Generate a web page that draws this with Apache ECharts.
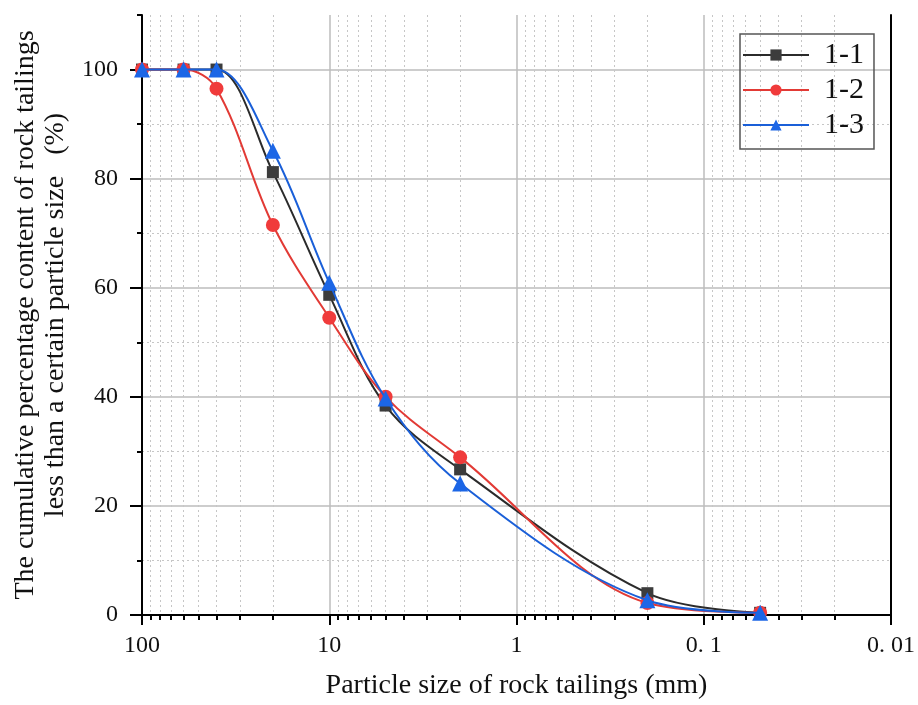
<!DOCTYPE html>
<html>
<head>
<meta charset="utf-8">
<script src="https://cdn.jsdelivr.net/npm/echarts@6/dist/echarts.min.js"></script>
<style>
  html, body { margin: 0; padding: 0; background: #fff; }
  #chart { width: 918px; height: 705px; }
</style>
</head>
<body>
<div id="chart"></div>
<script>
// particle size (mm) and cumulative passing (%)
const sizes = [100, 60, 40, 20, 10, 5, 2, 0.2, 0.05];
const s11 = [100, 100, 100, 81.2, 58.7, 38.4, 26.7, 4.0, 0.4];
const s12 = [100, 100, 96.5, 71.5, 54.5, 40.0, 28.9, 2.2, 0.4];
const s13 = [100, 100, 100, 85.1, 60.9, 39.7, 24.1, 2.7, 0.4];

const xLabelMap = { '100': '100', '10': '10', '1': '1', '0.1': '0. 1', '0.01': '0. 01' };
const yMajor = [0, 20, 40, 60, 80, 100];
const yMinor = [10, 30, 50, 70, 90, 110];

const serif = 'Liberation Serif';

function pairs(ys) {
  return sizes.map((x, i) => [x, ys[i]]);
}

const chart = echarts.init(document.getElementById('chart'));

const option = {
  animation: false,
  backgroundColor: '#fff',
  grid: { left: 142, right: 27, top: 15, bottom: 88 },
  legend: {
    orient: 'vertical',
    left: 740,
    top: 34,
    padding: [6, 10, 9, 2],
    itemWidth: 66,
    itemHeight: 14,
    itemGap: 5,
    borderColor: '#555',
    borderWidth: 1.5,
    textStyle: { fontFamily: serif, fontSize: 30, color: '#111', padding: [0, 0, 0, 10] },
    data: ['1-1', '1-2', '1-3']
  },
  xAxis: [
    {
      type: 'log',
      logBase: 10,
      min: 0.01,
      max: 100,
      inverse: true,
      position: 'bottom',
      name: 'Particle size of rock tailings (mm)',
      nameLocation: 'middle',
      nameGap: 57,
      nameTextStyle: { fontFamily: serif, fontSize: 28, color: '#111' },
      axisLine: { lineStyle: { color: '#000', width: 2 } },
      axisTick: { inside: false, length: 10, lineStyle: { color: '#000', width: 2 } },
      minorTick: { show: true, splitNumber: 9, length: 5, lineStyle: { color: '#000', width: 2 } },
      axisLabel: {
        margin: 19,
        fontFamily: serif,
        fontSize: 24,
        color: '#111',
        formatter: v => xLabelMap[String(+v.toPrecision(6))] || ''
      },
      splitLine: { show: true, lineStyle: { color: '#bdbdbd', width: 1.5 } },
      minorSplitLine: { show: true, lineStyle: { color: '#c6c6c6', width: 1, type: [2, 3] } }
    }
  ],
  yAxis: [
    {
      type: 'value',
      min: 0,
      max: 110,
      interval: 20,
      name: 'The cumulative percentage content of rock tailings\nless than a certain particle size   (%)',
      nameLocation: 'middle',
      nameGap: 70,
      nameTextStyle: { fontFamily: serif, fontSize: 28, color: '#111', lineHeight: 30 },
      axisLine: { show: true, lineStyle: { color: '#000', width: 2 } },
      axisTick: { show: true, length: 12, customValues: yMajor, lineStyle: { color: '#000', width: 2 } },
      axisLabel: { margin: 24, customValues: yMajor, fontFamily: serif, fontSize: 24, color: '#111' },
      splitLine: { show: true, lineStyle: { color: '#bdbdbd', width: 1.5 } }
    },
    {
      type: 'value',
      min: 0,
      max: 110,
      position: 'left',
      axisLine: { show: false },
      axisTick: { show: true, length: 5, customValues: yMinor, lineStyle: { color: '#000', width: 2 } },
      axisLabel: { show: false },
      splitLine: { show: true, showMaxLine: false, lineStyle: { color: '#c6c6c6', width: 1, type: [2, 3] } }
    },
    {
      type: 'value',
      min: 0,
      max: 110,
      position: 'right',
      axisLine: { show: true, lineStyle: { color: '#000', width: 2 } },
      axisTick: { show: false },
      axisLabel: { show: false },
      splitLine: { show: false }
    }
  ],
  series: [
    {
      name: '1-1',
      type: 'line',
      smooth: 0.35,
      data: pairs(s11),
      symbol: 'rect',
      symbolSize: 12,
      lineStyle: { color: '#2b2b2b', width: 2 },
      itemStyle: { color: '#3c3c3c' },
      z: 3
    },
    {
      name: '1-2',
      type: 'line',
      smooth: 0.35,
      data: pairs(s12),
      symbol: 'circle',
      symbolSize: 14,
      lineStyle: { color: '#e23a35', width: 2 },
      itemStyle: { color: '#f03b3b' },
      z: 4
    },
    {
      name: '1-3',
      type: 'line',
      smooth: 0.35,
      data: pairs(s13),
      symbol: 'triangle',
      symbolSize: 16,
      lineStyle: { color: '#1a5fd8', width: 2 },
      itemStyle: { color: '#1c66e6' },
      z: 5
    }
  ]
};

chart.setOption(option);
</script>
</body>
</html>
